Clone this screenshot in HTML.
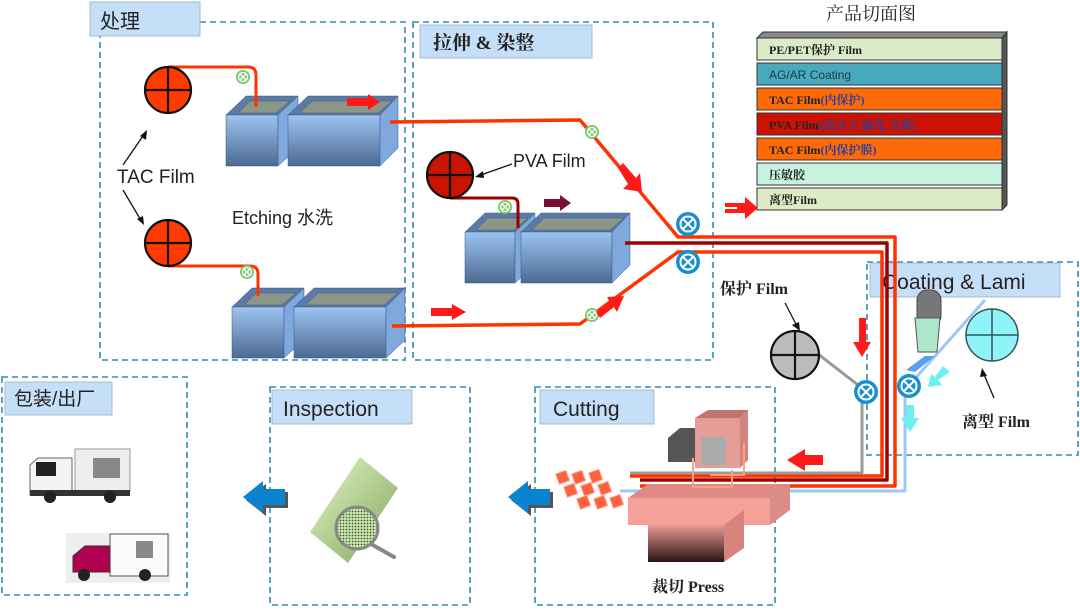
<!DOCTYPE html>
<html><head><meta charset="utf-8"><style>
html,body{margin:0;padding:0;background:#fff;}
svg{display:block;}
.lbl{font-family:"Liberation Sans","Noto Sans CJK SC",sans-serif;fill:#222;}
.ser{font-family:"Liberation Serif","Noto Serif CJK SC",serif;font-weight:bold;fill:#222;}
</style></head><body>
<svg width="1080" height="610" viewBox="0 0 1080 610" xmlns="http://www.w3.org/2000/svg">
<defs>
<linearGradient id="tk" x1="0" y1="0" x2="0" y2="1"><stop offset="0" stop-color="#9cc4f2"/><stop offset="1" stop-color="#4d6a92"/></linearGradient>
<linearGradient id="stem" x1="0" y1="0" x2="0" y2="1"><stop offset="0" stop-color="#e99a95"/><stop offset="1" stop-color="#2a1414"/></linearGradient>
<linearGradient id="gr" x1="0" y1="0" x2="1" y2="1"><stop offset="0" stop-color="#e4f5c8"/><stop offset="1" stop-color="#7fa55a"/></linearGradient>
<pattern id="mesh" width="3" height="3" patternUnits="userSpaceOnUse"><rect width="3" height="3" fill="#cfe6b0"/><circle cx="1.5" cy="1.5" r="0.9" fill="#3a5a2a"/></pattern>
<g id="gx"><circle r="7" fill="#7cc86a"/><circle r="4.5" fill="none" stroke="#fff" stroke-width="1.3"/><path d="M-3 -3L3 3M3 -3L-3 3" stroke="#fff" stroke-width="1.3"/></g>
<g id="bx"><circle r="12" fill="#1a8fd0"/><circle r="7.5" fill="none" stroke="#fff" stroke-width="2"/><path d="M-5 -5L5 5M5 -5L-5 5" stroke="#fff" stroke-width="2"/></g>
</defs>

<g fill="none" stroke="#2f8db3" stroke-width="1.6" stroke-dasharray="6,4">
<rect x="100" y="22" width="305" height="338"/>
<rect x="413" y="22" width="300" height="338"/>
<rect x="867" y="262" width="211" height="193"/>
<rect x="535" y="387" width="240" height="218"/>
<rect x="270" y="387" width="200" height="218"/>
<rect x="2" y="377" width="185" height="218"/>
</g>
<g fill="#c6dff8" stroke="#aab8c8" stroke-width="1">
<rect x="90" y="2" width="110" height="34"/>
<rect x="420" y="25" width="172" height="33"/>
<rect x="870" y="263" width="190" height="34"/>
<rect x="540" y="390" width="114" height="34"/>
<rect x="272" y="390" width="140" height="34"/>
<rect x="5" y="382" width="107" height="33"/>
</g>
<text x="100" y="28" class="lbl" font-size="20">处理</text>
<text x="433" y="49" class="ser" font-size="19">拉伸 &amp; 染整</text>
<text x="882" y="289" class="lbl" font-size="21">Coating &amp; Lami</text>
<text x="553" y="416" class="lbl" font-size="21">Cutting</text>
<text x="283" y="416" class="lbl" font-size="21">Inspection</text>
<text x="14" y="405" class="lbl" font-size="19">包装/出厂</text>

<text x="826" y="20" class="lbl" font-size="18" style="font-family:'Liberation Serif','Noto Serif CJK SC',serif">产品切面图</text>
<g stroke="#333" stroke-width="1">
<polygon points="757,38 763,32 1007,32 1002,38" fill="#888"/>
<polygon points="1002,38 1007,32 1007,205 1002,210" fill="#555"/>
<rect x="757" y="38" width="245" height="22" fill="#dcebc6"/>
<rect x="757" y="63" width="245" height="22" fill="#4aaabd"/>
<rect x="757" y="88" width="245" height="22" fill="#ff6a08"/>
<rect x="757" y="113" width="245" height="22" fill="#cc1200"/>
<rect x="757" y="138" width="245" height="22" fill="#ff6a08"/>
<rect x="757" y="163" width="245" height="22" fill="#c8f2e0"/>
<rect x="757" y="188" width="245" height="22" fill="#dcebc6"/>
</g>
<g class="ser" font-size="12">
<text x="769" y="54">PE/PET保护 Film</text>
<text x="769" y="79" style="font-family:'Liberation Sans',sans-serif;font-weight:normal" fill="#1a3a4a">AG/AR Coating</text>
<text x="769" y="104">TAC Film<tspan fill="#2a3fa0">(内保护)</tspan></text>
<text x="769" y="129">PVA Film<tspan fill="#2a3fa0">(高分子 偏光 介质)</tspan></text>
<text x="769" y="154">TAC Film<tspan fill="#2a3fa0">(内保护膜)</tspan></text>
<text x="769" y="179">压敏胶</text>
<text x="769" y="204">离型Film</text>
</g>

<g stroke="#3a5680" stroke-width="0.5">
<polygon points="226,115 246,96 298,96 278,115" fill="#5b7aa5"/><polygon points="238,113 250,101 290,101 276,113" fill="#8c9688"/>
<rect x="226" y="115" width="52" height="51" fill="url(#tk)"/><polygon points="278,115 298,96 298,148 278,166" fill="#7fa9dc"/>
<polygon points="288,115 308,96 398,96 380,115" fill="#5b7aa5"/><polygon points="300,113 312,101 392,101 378,113" fill="#8c9688"/>
<rect x="288" y="115" width="92" height="51" fill="url(#tk)"/><polygon points="380,115 398,96 398,148 380,166" fill="#7fa9dc"/>
<polygon points="232,307 252,288 304,288 284,307" fill="#5b7aa5"/><polygon points="244,305 256,293 296,293 282,305" fill="#8c9688"/>
<rect x="232" y="307" width="52" height="51" fill="url(#tk)"/><polygon points="284,307 304,288 304,340 284,358" fill="#7fa9dc"/>
<polygon points="294,307 314,288 405,288 386,307" fill="#5b7aa5"/><polygon points="306,305 318,293 398,293 384,305" fill="#8c9688"/>
<rect x="294" y="307" width="92" height="51" fill="url(#tk)"/><polygon points="386,307 405,288 405,340 386,358" fill="#7fa9dc"/>
<polygon points="465,232 485,213 535,213 515,232" fill="#5b7aa5"/><polygon points="476,230 488,218 528,218 514,230" fill="#8c9688"/>
<rect x="465" y="232" width="50" height="51" fill="url(#tk)"/><polygon points="515,232 535,213 535,265 515,283" fill="#7fa9dc"/>
<polygon points="521,232 541,213 630,213 612,232" fill="#5b7aa5"/><polygon points="532,230 544,218 624,218 610,230" fill="#8c9688"/>
<rect x="521" y="232" width="91" height="51" fill="url(#tk)"/><polygon points="612,232 630,213 630,265 612,283" fill="#7fa9dc"/>
</g>

<g fill="none" stroke-linejoin="round">
<path d="M168,67 H248 Q256,67 256,75 V107" stroke="#ff3300" stroke-width="3"/>
<path d="M168,266 H250 Q258,266 258,274 V296" stroke="#ff3300" stroke-width="3"/>
<path d="M450,198 H512 Q518,198 518,204 V228" stroke="#990000" stroke-width="3"/>
<path d="M390,122 L580,120 L678,237 H895 V486 H640" stroke="#ff3300" stroke-width="3.5"/>
<path d="M625,243 H887 V480 H640" stroke="#a00000" stroke-width="3.5"/>
<path d="M392,326 L580,324 L678,252 H882 V476 H630" stroke="#ff3300" stroke-width="3.5"/>
<path d="M800,340 L858,385 L862,392 V473 H630" stroke="#999" stroke-width="3"/>
<path d="M985,300 L912,382 L905,390 V491 H620" stroke="#9ec6f8" stroke-width="3"/>
</g>

<g stroke="#111" stroke-width="2.2">
<circle cx="168" cy="90" r="23" fill="#ff3a00"/><path d="M145,90H191M168,67V113"/>
<circle cx="168" cy="243" r="23" fill="#ff3a00"/><path d="M145,243H191M168,220V266"/>
<circle cx="450" cy="175" r="23" fill="#c81400"/><path d="M427,175H473M450,152V198"/>
<circle cx="795" cy="355" r="24" fill="#bbb"/><path d="M771,355H819M795,331V379"/>
<circle cx="992" cy="335" r="26" fill="#8ef4fa" stroke="#355" stroke-width="1.5"/><path d="M966,335H1018M992,309V361" stroke="#355" stroke-width="1.5"/>
</g>
<use href="#gx" x="243" y="77"/><use href="#gx" x="247" y="272"/><use href="#gx" x="505" y="207"/>
<use href="#gx" x="592" y="132"/><use href="#gx" x="592" y="315"/>
<use href="#bx" x="688" y="224"/><use href="#bx" x="688" y="262"/>
<use href="#bx" x="866" y="392"/><use href="#bx" x="909" y="386"/>

<rect x="917" y="290" width="24" height="36" rx="10" fill="#777" stroke="#444"/>
<polygon points="915,318 940,318 937,352 918,352" fill="#aee6cc" stroke="#555"/>
<polygon points="906,370 925,356 935,356 915,372" fill="#5aa0ee"/>

<g fill="#ff1a1a">
<polygon points="347,98 368,98 368,94 380,102 368,110 368,106 347,106"/>
<polygon points="431,308 452,308 452,304 466,312 452,320 452,316 431,316"/>
<polygon points="618,168 623,163 636,178 640,173 642,192 623,189 628,184"/>
<polygon points="600,318 596,312 610,302 607,297 624,296 617,312 614,307"/>
<polygon points="737,204 737,207 725,207 725,203 745,203 745,197 758,208 745,219 745,213 725,213 725,209 737,209"/>
<polygon points="859,318 866,318 866,342 871,342 862,357 853,342 859,342"/>
<polygon points="787,460 805,449 805,455 823,455 823,465 805,465 805,471"/>
</g>
<polygon points="544,199 560,199 560,195 571,203 560,211 560,207 544,207" fill="#7a1030"/>
<g fill="#6cf0f0">
<polygon points="943,366 950,372 938,380 942,385 928,387 931,374 935,377"/>
<polygon points="906,405 914,405 914,418 919,418 910,432 901,418 906,418"/>
</g>
<g>
<polygon points="243,497 263,481 263,489 285,489 285,505 263,505 263,513" fill="#555" transform="translate(3,3)"/>
<polygon points="243,497 263,481 263,489 285,489 285,505 263,505 263,513" fill="#0a84d0"/>
<polygon points="508,497 528,481 528,489 550,489 550,505 528,505 528,513" fill="#555" transform="translate(3,3)"/>
<polygon points="508,497 528,481 528,489 550,489 550,505 528,505 528,513" fill="#0a84d0"/>
</g>

<g stroke="#111" stroke-width="1.3" fill="none">
<path d="M123,165 L145,133"/><path d="M123,190 L142,222"/>
<path d="M512,164 L478,176"/><path d="M785,303 L798,328"/><path d="M994,398 L983,372"/>
</g>
<g fill="#111">
<polygon points="147,130 146,140 140,136"/><polygon points="144,225 137,219 143,216"/>
<polygon points="475,177 483,171 484,178"/><polygon points="800,331 792,325 799,322"/><polygon points="982,368 987,376 980,377"/>
</g>

<polygon points="628,498 648,484 790,484 770,498" fill="#e08a85"/>
<rect x="628" y="498" width="142" height="27" fill="#f6a09a"/>
<polygon points="770,498 790,484 790,510 770,525" fill="#dc8c86"/>
<rect x="648" y="525" width="76" height="37" fill="url(#stem)"/>
<polygon points="724,525 744,510 744,548 724,562" fill="#d8847e"/>
<polygon points="668,438 680,428 700,428 700,462 668,462" fill="#555"/>
<polygon points="695,418 708,410 748,410 740,418" fill="#c07570"/>
<rect x="695" y="418" width="45" height="50" fill="#e59d98"/>
<polygon points="740,418 748,410 748,460 740,468" fill="#d08580"/>
<rect x="701" y="437" width="25" height="28" fill="#aaa"/>
<g fill="none" stroke="#ffa080" stroke-width="2"><path d="M693,458 V487 H732 V470"/><path d="M744,443 V475 H710"/></g>
<g fill="#ff6040" stroke="#ffb0a0" stroke-width="1">
<rect x="557" y="472" width="11" height="11" transform="rotate(-20 562 477)"/>
<rect x="573" y="472" width="11" height="11" transform="rotate(-20 578 477)"/>
<rect x="590" y="471" width="11" height="11" transform="rotate(-20 595 476)"/>
<rect x="565" y="485" width="11" height="11" transform="rotate(-20 570 490)"/>
<rect x="582" y="484" width="11" height="11" transform="rotate(-20 587 489)"/>
<rect x="599" y="483" width="11" height="11" transform="rotate(-20 604 488)"/>
<rect x="578" y="497" width="11" height="11" transform="rotate(-20 583 502)"/>
<rect x="595" y="497" width="11" height="11" transform="rotate(-20 600 502)"/>
<rect x="611" y="496" width="11" height="11" transform="rotate(-20 616 501)"/>
</g>

<polygon points="340,457 378,488 328,563 290,532" fill="url(#gr)" transform="translate(20,0)"/>
<line x1="371" y1="544" x2="394" y2="557" stroke="#888" stroke-width="4" stroke-linecap="round"/>
<circle cx="357" cy="528" r="21" fill="url(#mesh)" stroke="#888" stroke-width="3"/>

<rect x="75" y="449" width="55" height="42" fill="#eee" stroke="#999"/>
<rect x="93" y="458" width="27" height="20" fill="#888"/>
<path d="M30,465 L38,458 H72 V495 H30 Z" fill="#f4f4f4" stroke="#666"/>
<rect x="36" y="462" width="20" height="14" fill="#222"/>
<rect x="30" y="490" width="100" height="6" fill="#333"/>
<circle cx="50" cy="497" r="6" fill="#222"/><circle cx="110" cy="497" r="6" fill="#222"/>
<rect x="66" y="533" width="104" height="50" fill="#eee"/>
<rect x="110" y="534" width="58" height="42" fill="#fafafa" stroke="#555"/>
<rect x="136" y="541" width="17" height="17" fill="#888"/>
<path d="M73,556 L85,546 H110 V572 H73 Z" fill="#b00050" stroke="#333"/>
<circle cx="84" cy="575" r="6" fill="#222"/><circle cx="145" cy="575" r="6" fill="#222"/>

<text x="117" y="183" class="lbl" font-size="19">TAC Film</text>
<text x="232" y="224" class="lbl" font-size="18">Etching  水洗</text>
<text x="513" y="167" class="lbl" font-size="18">PVA Film</text>
<text x="720" y="294" class="ser" font-size="16">保护 Film</text>
<text x="962" y="427" class="ser" font-size="16">离型 Film</text>
<text x="652" y="592" class="ser" font-size="16">裁切 Press</text>
</svg>
</body></html>
